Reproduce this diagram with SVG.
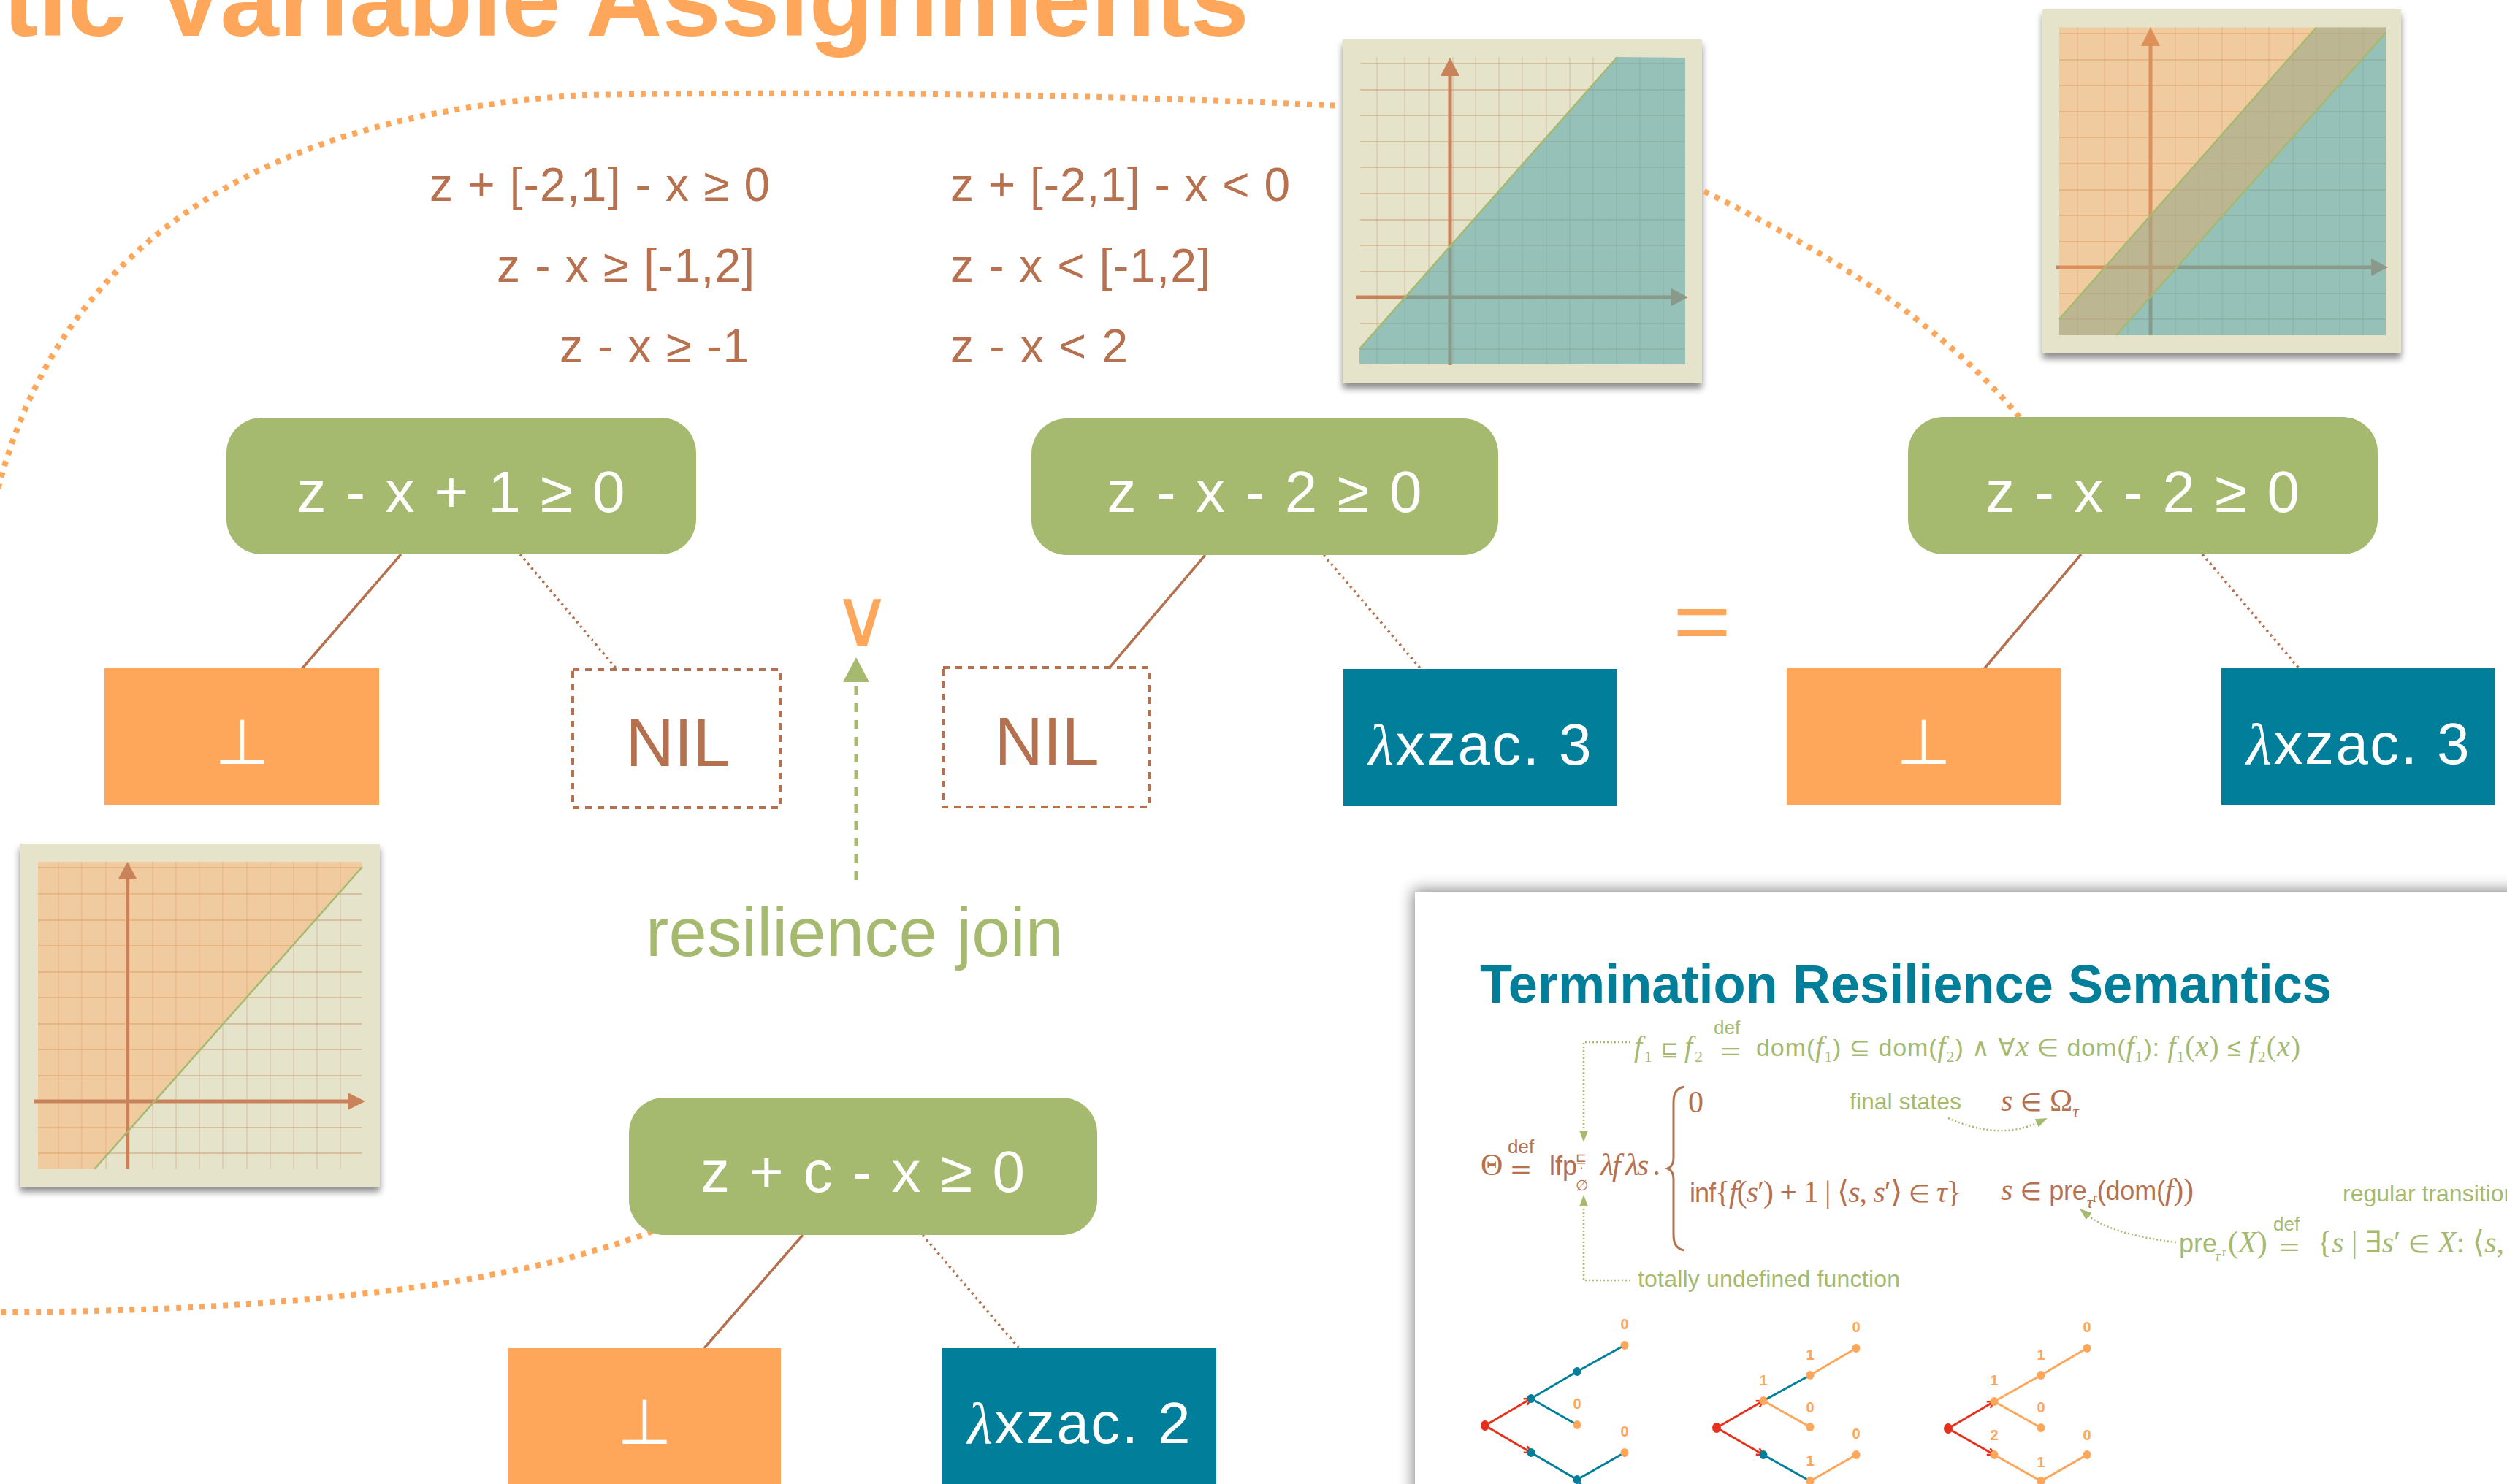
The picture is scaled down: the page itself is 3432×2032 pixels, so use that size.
<svg xmlns="http://www.w3.org/2000/svg" width="3432" height="2032" viewBox="0 0 3432 2032">
<defs>
<style>
.sans{font-family:"Liberation Sans",Arial,"DejaVu Sans",sans-serif}
.serif{font-family:"Liberation Serif","Times New Roman","DejaVu Serif",serif}
.sym{font-family:"DejaVu Sans",sans-serif}
.thin{font-weight:200}
.it{font-style:italic}
.cond{fill:#A5BA6F}
.cond-label{fill:#fff;font-size:80px;text-anchor:middle}
.bot{fill:#FEA65A}
.lam{fill:#017F9A}
.nil{fill:#fff;stroke:#B5704E;stroke-width:4;stroke-dasharray:9 8}
.leaf-label{fill:#fff;text-anchor:middle}
.nil-label{fill:#B5704E;font-size:92px;text-anchor:middle}
.edge{stroke:#B5704E;stroke-width:3.5;fill:none}
.edge-dot{stroke:#B5704E;stroke-width:3.5;fill:none;stroke-dasharray:3 5}
.trail{fill:none;stroke:#FEA65A;stroke-width:8;stroke-dasharray:7 9}
.constraint{fill:#B8714F;font-size:64px}
.card{fill:#E6E3CB}
.gridh{stroke:#C8946A;stroke-opacity:.45;stroke-width:2;fill:none}
.gridv{stroke:#C8946A;stroke-opacity:.3;stroke-width:1.5;fill:none}
.axis{stroke:#C9835B;stroke-width:5;fill:none}
.axis-head{fill:#C9835B}
.teal-area{fill:#5FAAAC;fill-opacity:.6}
.orange-area{fill:#FFA658;fill-opacity:.38}
.bound{stroke:#A5BA6F;stroke-width:2.5;fill:none}
.pg{fill:#A5BA6F}
.pb{fill:#B5704E}
.guide{fill:none;stroke:#A5BA6F;stroke-width:2.5;stroke-dasharray:2 3}
.t-red{stroke:#E7301C;stroke-width:3;fill:none}
.t-teal{stroke:#017F9A;stroke-width:3;fill:none}
.t-or{stroke:#FEA65A;stroke-width:3;fill:none}
.d-red{fill:#E7301C}
.d-teal{fill:#017F9A}
.d-or{fill:#FEA65A}
.tl{fill:#FEA65A;font-size:20px;text-anchor:middle;font-weight:bold}
</style>
<filter id="cardShadow" x="-10%" y="-10%" width="120%" height="125%">
<feDropShadow dx="0" dy="7" stdDeviation="5" flood-color="#000" flood-opacity="0.45"/>
</filter>
<filter id="panelShadow" x="-5%" y="-8%" width="115%" height="120%">
<feDropShadow dx="-3" dy="-3" stdDeviation="10" flood-color="#000" flood-opacity="0.45"/>
</filter>
<marker id="joinHead" markerUnits="userSpaceOnUse" markerWidth="34" markerHeight="36" viewBox="0 0 34 36" refX="0" refY="18" orient="auto">
<path d="M0 0L34 18L0 36z" fill="#A5BA6F"/>
</marker>
<marker id="gArrow" markerUnits="userSpaceOnUse" markerWidth="16" markerHeight="12" viewBox="0 0 16 12" refX="2" refY="6" orient="auto">
<path d="M0 0L16 6L0 12z" fill="#A5BA6F"/>
</marker>
<marker id="rArrow" markerUnits="userSpaceOnUse" markerWidth="12" markerHeight="12" viewBox="0 0 12 12" refX="11" refY="6" orient="auto">
<path d="M2 1L11 6L2 11" fill="none" stroke="#E7301C" stroke-width="2.5"/>
</marker>
</defs>

<rect width="3432" height="2032" fill="#fff"/>

<!-- heading, clipped by the top edge -->
<text x="4" y="49" class="sans" font-weight="bold" font-size="143" fill="#FEA65A" textLength="1706" lengthAdjust="spacingAndGlyphs">tic Variable Assignments</text>

<!-- interval constraints -->
<g id="constraints" class="sans">
<text class="constraint" x="588" y="275" textLength="466">z + [-2,1] - x ≥ 0</text>
<text class="constraint" x="680" y="386" textLength="353">z - x ≥ [-1,2]</text>
<text class="constraint" x="766" y="496" textLength="259">z - x ≥ -1</text>
<text class="constraint" x="1301" y="275" textLength="465">z + [-2,1] - x &lt; 0</text>
<text class="constraint" x="1301" y="386" textLength="356">z - x &lt; [-1,2]</text>
<text class="constraint" x="1301" y="496" textLength="243">z - x &lt; 2</text>
</g>

<!-- plot: z - x - 2 >= 0 region -->
<g id="plot-a">
<rect class="card" x="1838" y="54" width="492" height="471" filter="url(#cardShadow)"/>
<path class="gridv" d="M1885 78V499M1923 78V499M1956 78V499M1989 78V499M2020 78V499M2052 78V499M2084 78V499M2117 78V499M2149 78V499M2181 78V499M2213 78V499M2245 78V499M2277 78V499"/>
<path class="gridh" d="M1862 87H2307M1862 123H2307M1862 158H2307M1862 194H2307M1862 229H2307M1862 265H2307M1862 301H2307M1862 336H2307M1862 372H2307M1862 443H2307M1862 478H2307"/>
<path class="axis" d="M1856 407H2290"/>
<path class="axis-head" d="M2288 395L2311 407L2288 419z"/>
<path class="axis" d="M1985 500V102" stroke-width="4"/>
<path class="axis-head" d="M1972 104L1985 79L1998 104z"/>
<path class="teal-area" d="M2214 78L2307 79L2307 499L1861 498L1861 478z"/>
<path class="bound" d="M1861 478L2214 78"/>
</g>

<!-- plot: combined band -->
<g id="plot-b">
<rect class="card" x="2796" y="13" width="491" height="471" filter="url(#cardShadow)"/>
<path class="gridv" d="M2844 37V459M2881 37V459M2913 37V459M2944 37V459M2978 37V459M3010 37V459M3042 37V459M3074 37V459M3106 37V459M3139 37V459M3171 37V459M3203 37V459M3235 37V459"/>
<path class="gridh" d="M2819 46H3266M2819 82H3266M2819 117H3266M2819 153H3266M2819 188H3266M2819 224H3266M2819 260H3266M2819 295H3266M2819 331H3266M2819 402H3266M2819 437H3266"/>
<path class="axis" d="M2815 366H3248"/>
<path class="axis-head" d="M3246 354L3269 366L3246 378z"/>
<path class="axis" d="M2944 459V60" stroke-width="4"/>
<path class="axis-head" d="M2931 63L2944 37L2957 63z"/>
<path class="teal-area" d="M3171 37.5L3266 37.5L3266 459L2819 459L2819 437z"/>
<path class="orange-area" d="M2819 37.5L3266 37.5L3266 44.6L2897 459L2819 459z"/>
<path class="bound" d="M2819 437L3171 37.5M2897 459L3266 44.6"/>
</g>

<!-- plot: z + c - x >= 0 region -->
<g id="plot-c">
<rect class="card" x="27" y="1155" width="493" height="470" filter="url(#cardShadow)"/>
<path class="gridv" d="M80 1180V1600M112 1180V1600M145 1180V1600M177 1180V1600M209 1180V1600M241 1180V1600M273 1180V1600M305 1180V1600M338 1180V1600M370 1180V1600M402 1180V1600M434 1180V1600M466 1180V1600"/>
<path class="gridh" d="M52 1188H496M52 1224H496M52 1260H496M52 1295H496M52 1331H496M52 1366H496M52 1402H496M52 1437H496M52 1473H496M52 1544H496M52 1579H496"/>
<path class="orange-area" d="M52 1180L496 1180L496 1187L130 1600L52 1600z"/>
<path class="axis" d="M46 1508H478"/>
<path class="axis-head" d="M476 1496L500 1508L476 1520z"/>
<path class="axis" d="M174.5 1600V1202" stroke-width="4"/>
<path class="axis-head" d="M161.5 1204L174.5 1180L187.5 1204z"/>
<path class="bound" d="M130 1600L496 1187"/>
</g>

<!-- connectors -->
<g id="connectors">
<path class="trail" d="M-10 700C60 380 300 160 800 130C1100 125 1500 128 1836 145"/>
<path class="trail" d="M2333 262C2450 320 2640 420 2765 572"/>
<path class="trail" d="M893 1686C700 1760 400 1795 -10 1797"/>
<line class="edge" x1="549" y1="759" x2="413" y2="916"/>
<line class="edge-dot" x1="712" y1="759" x2="844" y2="916"/>
<line class="edge" x1="1650" y1="760" x2="1518" y2="915"/>
<line class="edge-dot" x1="1812" y1="760" x2="1945" y2="916"/>
<line class="edge" x1="2849" y1="759" x2="2716" y2="916"/>
<line class="edge-dot" x1="3015" y1="759" x2="3148" y2="916"/>
<line class="edge" x1="1099" y1="1691" x2="964" y2="1846"/>
<line class="edge-dot" x1="1263" y1="1691" x2="1395" y2="1846"/>
<line x1="1172" y1="1205" x2="1172" y2="934" stroke="#A5BA6F" stroke-width="5" stroke-dasharray="12 11" marker-end="url(#joinHead)"/>
</g>

<!-- decision nodes -->
<g id="node-left" class="sans">
<rect class="cond" x="310" y="572" width="643" height="187" rx="48"/>
<text class="cond-label" x="631" y="701" textLength="449">z - x + 1 ≥ 0</text>
</g>
<g id="node-mid" class="sans">
<rect class="cond" x="1412" y="573" width="639" height="187" rx="48"/>
<text class="cond-label" x="1731" y="701" textLength="431">z - x - 2 ≥ 0</text>
</g>
<g id="node-right" class="sans">
<rect class="cond" x="2612" y="571" width="643" height="188" rx="48"/>
<text class="cond-label" x="2933" y="701" textLength="430">z - x - 2 ≥ 0</text>
</g>
<g id="node-joined" class="sans">
<rect class="cond" x="861" y="1503" width="641" height="188" rx="48"/>
<text class="cond-label" x="1181" y="1632" textLength="444">z + c - x ≥ 0</text>
</g>

<!-- leaves -->
<g id="leaf-bot-1"><rect class="bot" x="143" y="915" width="376" height="187"/><text class="leaf-label sym thin" x="331" y="1046" font-size="86">⊥</text></g>
<g id="leaf-nil-1"><rect class="nil" x="784" y="917" width="284" height="189"/><text class="nil-label sans" x="928" y="1049">NIL</text></g>
<g id="leaf-nil-2"><rect class="nil" x="1291" y="914" width="282" height="191"/><text class="nil-label sans" x="1433" y="1047">NIL</text></g>
<g id="leaf-lam-1"><rect class="lam" x="1839" y="916" width="375" height="188"/><text class="leaf-label sans" x="2026" y="1047" font-size="80" textLength="305"><tspan class="serif it">λ</tspan>xzac. 3</text></g>
<g id="leaf-bot-2"><rect class="bot" x="2446" y="915" width="375" height="187"/><text class="leaf-label sym thin" x="2633" y="1046" font-size="86">⊥</text></g>
<g id="leaf-lam-2"><rect class="lam" x="3041" y="915" width="375" height="187"/><text class="leaf-label sans" x="3228" y="1046" font-size="80" textLength="305"><tspan class="serif it">λ</tspan>xzac. 3</text></g>
<g id="leaf-bot-3"><rect class="bot" x="695" y="1846" width="374" height="200"/><text class="leaf-label sym thin" x="882" y="1977" font-size="86">⊥</text></g>
<g id="leaf-lam-3"><rect class="lam" x="1289" y="1846" width="376" height="200"/><text class="leaf-label sans" x="1477" y="1976" font-size="80" textLength="305"><tspan class="serif it">λ</tspan>xzac. 2</text></g>

<!-- operators between trees -->
<text id="op-join" class="sym thin" x="1180" y="884" font-size="110" fill="#FEA65A" text-anchor="middle">∨</text>
<text id="op-eq" class="sans" x="2330" y="890" font-size="115" fill="#FEA65A" text-anchor="middle" textLength="80" lengthAdjust="spacingAndGlyphs">=</text>
<text id="join-label" class="sans" x="884" y="1309" font-size="94" fill="#A5BA6F" textLength="572">resilience join</text>

<!-- semantics slide -->
<g id="semantics-panel">
<rect x="1937" y="1221" width="1600" height="900" fill="#fff" filter="url(#panelShadow)"/>
<text x="2026" y="1373" class="sans" font-weight="bold" font-size="75" fill="#017F9A" textLength="1166" lengthAdjust="spacingAndGlyphs">Termination Resilience Semantics</text>

<!-- order definition -->
<g class="pg">
<text class="serif it" x="2237" y="1446" font-size="40">f</text>
<text class="serif" x="2251" y="1454" font-size="22">1</text>
<text class="sym" x="2274" y="1446" font-size="28">⊑</text>
<text class="serif it" x="2306" y="1446" font-size="40">f</text>
<text class="serif" x="2320" y="1454" font-size="22">2</text>
<text class="sans" x="2346" y="1416" font-size="26">def</text>
<text class="sans" x="2355" y="1450" font-size="30" textLength="28" lengthAdjust="spacingAndGlyphs">=</text>
<text class="sans" x="2404" y="1446" font-size="34" textLength="745">dom(<tspan class="serif it" font-size="40">f</tspan><tspan class="serif" font-size="22" dy="8">1</tspan><tspan dy="-8">) ⊆ dom(</tspan><tspan class="serif it" font-size="40">f</tspan><tspan class="serif" font-size="22" dy="8">2</tspan><tspan dy="-8">) ∧ ∀</tspan><tspan class="serif it" font-size="40">x</tspan> ∈ dom(<tspan class="serif it" font-size="40">f</tspan><tspan class="serif" font-size="22" dy="8">1</tspan><tspan dy="-8">): </tspan><tspan class="serif it" font-size="40">f</tspan><tspan class="serif" font-size="22" dy="8">1</tspan><tspan dy="-8" class="serif" font-size="40">(<tspan class="it">x</tspan>)</tspan> ≤ <tspan class="serif it" font-size="40">f</tspan><tspan class="serif" font-size="22" dy="8">2</tspan><tspan dy="-8" class="serif" font-size="40">(<tspan class="it">x</tspan>)</tspan></text>
</g>

<!-- fixpoint definition -->
<g class="pb">
<text class="serif" x="2027" y="1609" font-size="42">Θ</text>
<text class="sans" x="2064" y="1579" font-size="26">def</text>
<text class="sans" x="2068" y="1612" font-size="30" textLength="28" lengthAdjust="spacingAndGlyphs">=</text>
<text class="sans" x="2121" y="1609" font-size="36">lfp<tspan class="sym" x="2157" y="1592" font-size="18">⊑</tspan><tspan class="sym" x="2157" y="1630" font-size="20">∅</tspan><tspan x="2163" y="1612" font-size="18">˙</tspan></text>
<text class="serif it" x="2191" y="1609" font-size="42" textLength="83">λf λs .</text>
<path d="M2306 1488C2294 1490 2291 1498 2291 1510V1585C2291 1594 2288 1598 2283 1600C2288 1602 2291 1606 2291 1615V1690C2291 1702 2294 1710 2306 1712" fill="none" stroke="#B5704E" stroke-width="3"/>
<text class="serif" x="2311" y="1523" font-size="42">0</text>
<text class="serif" x="2739" y="1521" font-size="42"><tspan class="it">s</tspan> <tspan class="sym" font-size="34">∈</tspan> Ω<tspan class="it" font-size="24" dy="9">τ</tspan></text>
<text class="serif" x="2313" y="1646" font-size="42" textLength="372"><tspan class="sans" font-size="36">inf</tspan>{<tspan class="it">f</tspan>(<tspan class="it">s</tspan>′) + 1 | ⟨<tspan class="it">s</tspan>, <tspan class="it">s</tspan>′⟩ <tspan class="sym" font-size="34">∈</tspan> <tspan class="it">τ</tspan>}</text>
<text class="serif" x="2739" y="1643" font-size="42" textLength="264"><tspan class="it">s</tspan> <tspan class="sym" font-size="34">∈</tspan> <tspan class="sans" font-size="36">pre</tspan><tspan class="it" font-size="24" dy="11">τ</tspan><tspan font-size="18" dy="-8">r</tspan><tspan dy="-3" class="sans" font-size="36">(dom(</tspan><tspan class="it">f</tspan>))</text>
</g>

<!-- annotations -->
<g class="pg">
<text class="sans" x="2532" y="1519" font-size="32">final states</text>
<text class="sans" x="3207" y="1645" font-size="32">regular transition</text>
<text class="sans" x="2242" y="1762" font-size="32" textLength="359">totally undefined function</text>
<text class="sans" x="2983" y="1715" font-size="36">pre<tspan class="serif it" x="3032" y="1727" font-size="22">τ</tspan><tspan class="serif" x="3042" y="1720" font-size="16">r</tspan><tspan class="serif" x="3050" y="1715" font-size="42">(</tspan><tspan class="serif it" font-size="42">X</tspan><tspan class="serif" font-size="42">)</tspan></text>
<text class="sans" x="3112" y="1685" font-size="26">def</text>
<text class="sans" x="3120" y="1718" font-size="30" textLength="28" lengthAdjust="spacingAndGlyphs">=</text>
<text class="serif" x="3172" y="1715" font-size="42">{<tspan class="it">s</tspan> | ∃<tspan class="it">s</tspan>′ <tspan class="sym" font-size="34">∈</tspan> <tspan class="it">X</tspan>: ⟨<tspan class="it">s</tspan>, <tspan class="it">s</tspan></text>
</g>
<path class="guide" d="M2232 1427H2168V1550" marker-end="url(#gArrow)"/>
<path class="guide" d="M2232 1753H2168V1650" marker-end="url(#gArrow)"/>
<path class="guide" d="M2667 1531Q2736 1562 2790 1537" marker-end="url(#gArrow)"/>
<path class="guide" d="M2979 1701Q2890 1690 2858 1664" marker-end="url(#gArrow)"/>

<!-- execution trees -->
<g id="tree-1">
<line class="t-red" x1="2033" y1="1952" x2="2096" y2="1915" marker-end="url(#rArrow)"/>
<line class="t-red" x1="2033" y1="1952" x2="2096" y2="1989" marker-end="url(#rArrow)"/>
<path class="t-teal" d="M2096 1915L2159 1878L2224 1842M2096 1915L2159 1951M2096 1989L2159 2026L2224 1989M2159 2026L2170 2040"/>
<ellipse class="d-red" cx="2033" cy="1952" rx="6" ry="7"/>
<ellipse class="d-teal" cx="2096" cy="1915" rx="5.5" ry="6"/>
<ellipse class="d-teal" cx="2096" cy="1989" rx="5.5" ry="6"/>
<ellipse class="d-teal" cx="2159" cy="1878" rx="5.5" ry="6"/>
<ellipse class="d-or" cx="2159" cy="1951" rx="5.5" ry="6"/>
<ellipse class="d-or" cx="2224" cy="1842" rx="5.5" ry="6"/>
<ellipse class="d-teal" cx="2159" cy="2026" rx="5.5" ry="6"/>
<ellipse class="d-or" cx="2224" cy="1989" rx="5.5" ry="6"/>
<text class="tl sans" x="2224" y="1820">0</text>
<text class="tl sans" x="2159" y="1929">0</text>
<text class="tl sans" x="2224" y="1967">0</text>
</g>
<g id="tree-2">
<line class="t-red" x1="2350" y1="1955" x2="2414" y2="1918" marker-end="url(#rArrow)"/>
<line class="t-red" x1="2350" y1="1955" x2="2414" y2="1992" marker-end="url(#rArrow)"/>
<path class="t-teal" d="M2414 1918L2478 1883M2414 1992L2478 2028"/>
<path class="t-or" d="M2478 1883L2541 1846M2414 1918L2478 1954M2478 2028L2541 1992"/>
<ellipse class="d-red" cx="2350" cy="1955" rx="6" ry="7"/>
<ellipse class="d-or" cx="2414" cy="1918" rx="5.5" ry="6"/>
<ellipse class="d-teal" cx="2414" cy="1992" rx="5.5" ry="6"/>
<ellipse class="d-or" cx="2478" cy="1883" rx="5.5" ry="6"/>
<ellipse class="d-or" cx="2478" cy="1954" rx="5.5" ry="6"/>
<ellipse class="d-or" cx="2541" cy="1846" rx="5.5" ry="6"/>
<ellipse class="d-or" cx="2478" cy="2028" rx="5.5" ry="6"/>
<ellipse class="d-or" cx="2541" cy="1992" rx="5.5" ry="6"/>
<text class="tl sans" x="2414" y="1897">1</text>
<text class="tl sans" x="2478" y="1862">1</text>
<text class="tl sans" x="2541" y="1824">0</text>
<text class="tl sans" x="2478" y="1934">0</text>
<text class="tl sans" x="2541" y="1970">0</text>
<text class="tl sans" x="2478" y="2007">1</text>
</g>
<g id="tree-3">
<line class="t-red" x1="2667" y1="1956" x2="2730" y2="1919" marker-end="url(#rArrow)"/>
<line class="t-red" x1="2667" y1="1956" x2="2730" y2="1992" marker-end="url(#rArrow)"/>
<path class="t-or" d="M2730 1919L2794 1883L2857 1846M2730 1919L2794 1955M2730 1992L2794 2028L2857 1992"/>
<ellipse class="d-red" cx="2667" cy="1956" rx="6" ry="7"/>
<ellipse class="d-or" cx="2730" cy="1919" rx="5.5" ry="6"/>
<ellipse class="d-or" cx="2730" cy="1992" rx="5.5" ry="6"/>
<ellipse class="d-or" cx="2794" cy="1883" rx="5.5" ry="6"/>
<ellipse class="d-or" cx="2794" cy="1955" rx="5.5" ry="6"/>
<ellipse class="d-or" cx="2857" cy="1846" rx="5.5" ry="6"/>
<ellipse class="d-or" cx="2794" cy="2028" rx="5.5" ry="6"/>
<ellipse class="d-or" cx="2857" cy="1992" rx="5.5" ry="6"/>
<text class="tl sans" x="2730" y="1897">1</text>
<text class="tl sans" x="2794" y="1862">1</text>
<text class="tl sans" x="2857" y="1824">0</text>
<text class="tl sans" x="2794" y="1934">0</text>
<text class="tl sans" x="2730" y="1972">2</text>
<text class="tl sans" x="2857" y="1972">0</text>
<text class="tl sans" x="2794" y="2009">1</text>
</g>
</g>
</svg>
